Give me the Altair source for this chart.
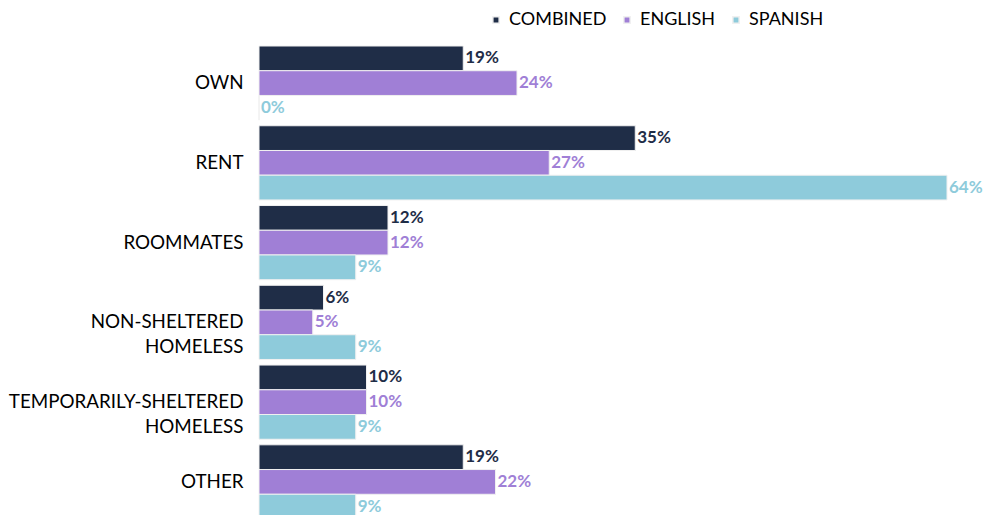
import altair as alt
import pandas as pd

categories = ["OWN", "RENT", "ROOMMATES", "NON-SHELTERED|HOMELESS",
              "TEMPORARILY-SHELTERED|HOMELESS", "OTHER"]
series = ["COMBINED", "ENGLISH", "SPANISH"]
combined = [19, 35, 12, 6, 10, 19]
english = [24, 27, 12, 5, 10, 22]
spanish = [0, 64, 9, 9, 9, 9]
colors = ["#1f2d47", "#a07fd6", "#8ecbdb"]

rows = []
for i, c in enumerate(categories):
    for s, vals in zip(series, [combined, english, spanish]):
        rows.append({"category": c, "series": s, "value": vals[i],
                     "label": f"{vals[i]}%"})
df = pd.DataFrame(rows)

FONT = "Lato"

y = alt.Y("category:N", sort=categories, title=None,
          scale=alt.Scale(paddingInner=0.07, paddingOuter=0.0),
          axis=alt.Axis(domain=False, ticks=False, labelFontSize=18.8,
                        labelColor="#000000", labelFont=FONT, labelPadding=16,
                        labelLineHeight=25, labelLimit=300,
                        labelExpr="split(datum.value, '|')"))
yoff = alt.YOffset("series:N", sort=series, scale=alt.Scale(paddingInner=0, paddingOuter=0))
x = alt.X("value:Q", title=None, scale=alt.Scale(domain=[0, 64], nice=False),
          axis=None)
color = alt.Color("series:N", sort=series,
                  scale=alt.Scale(domain=series, range=colors),
                  legend=alt.Legend(title=None, orient="none", legendX=228, legendY=-35,
                                    direction="horizontal", symbolType="square",
                                    symbolSize=40, labelFontSize=18, labelFont=FONT,
                                    labelColor="#000000", columnPadding=11,
                                    labelOffset=4, labelLimit=200,
                                    symbolOpacity=1))

bars = alt.Chart(df).mark_bar(stroke="#f0f0f0", strokeWidth=1).encode(
    x=x, y=y, yOffset=yoff, color=color)

text = alt.Chart(df).mark_text(align="left", baseline="middle", dx=2, fontSize=17,
                               fontWeight="bold", font=FONT).encode(
    x=x, y=y, yOffset=yoff, text="label:N",
    color=alt.Color("series:N", sort=series,
                    scale=alt.Scale(domain=series, range=colors), legend=None))

chart = (bars + text).properties(
    width=688, height=473,
    autosize=alt.AutoSizeParams(type="none"),
    padding={"left": 251, "top": 38, "right": 38, "bottom": 0},
).configure_view(stroke=None)

chart.save("out.html", embed_options={"renderer": "svg", "actions": False})
